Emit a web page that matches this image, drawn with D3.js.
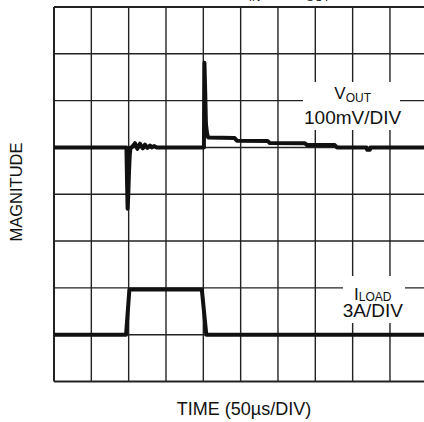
<!DOCTYPE html>
<html>
<head>
<meta charset="utf-8">
<script src="https://cdn.jsdelivr.net/npm/d3@7"></script>
<style>
body { margin: 0; background: #fff; }
text { font-family: "Liberation Sans", Arial, sans-serif; fill: #111; }
</style>
</head>
<body>
<div id="scope"></div>
<script>
// scope screen: 10 x 50us divisions, 8 vertical divisions
var xDivs = 10, yDivs = 8, usPerDiv = 50
var voutZero = 5, iloadZero = 1      // trace zero level, divisions from bottom
var mvPerDiv = 100, ampPerDiv = 3

// V_OUT deviation (mV) vs time (us)
var voutTime = [0, 97, 97.8, 98.6, 99.5, 100.5, 101.5, 102.5, 104, 108.5, 111.6, 115.2, 118.8, 121.9, 125, 128.6, 131.3, 134, 137.6,
  200.8, 201.5, 202.5, 203.5, 205, 206.5, 242, 245, 286, 289, 336, 339, 376, 379, 418.5, 419.5, 423, 424, 500]
var voutMv = [0, 0, -70, -131, -100, -50, -15, 0, 0, 9, -3, 8, -2, 6, -1, 4, 0, 3, 0,
  0, 181, 120, 50, 30, 21, 20, 14.5, 14, 9.5, 9, 5, 5, 0, 0, -5, -5, 0, 0]

// load current (A) vs time (us)
var iloadTime = [0, 96.5, 101, 198, 204, 500]
var iloadAmp = [0, 0, 2.9, 2.9, 0, 0]

var width = 424, height = 422

var svg = d3.select("#scope").append("svg")
  .attr("width", width)
  .attr("height", height)

var x = d3.scaleLinear().domain([0, xDivs * usPerDiv]).range([54, 427.3])
var y = d3.scaleLinear().domain([0, yDivs]).range([381.5, 7])

// grid
svg.append("g").selectAll("line")
  .data(d3.range(xDivs + 1))
  .enter().append("line")
  .attr("x1", function(d) { return x(d * usPerDiv) })
  .attr("x2", function(d) { return x(d * usPerDiv) })
  .attr("y1", y(0)).attr("y2", y(yDivs))
  .attr("stroke", "#222")
  .attr("stroke-width", function(d) { return d == 0 ? 2 : 1.4 })

svg.append("g").selectAll("line")
  .data(d3.range(yDivs + 1))
  .enter().append("line")
  .attr("y1", function(d) { return y(d) })
  .attr("y2", function(d) { return y(d) })
  .attr("x1", x(0)).attr("x2", x(xDivs * usPerDiv))
  .attr("stroke", "#222")
  .attr("stroke-width", function(d) { return (d == 0 || d == yDivs) ? 2 : 1.4 })

// white patches behind the trace labels
svg.append("rect").attr("x", 303).attr("y", 82).attr("width", 97).attr("height", 48).attr("fill", "#fff")
svg.append("rect").attr("x", 343).attr("y", 276).attr("width", 62).attr("height", 47).attr("fill", "#fff")

var vout = voutTime.map(function(t, i) { return [t, voutMv[i]] })
var iload = iloadTime.map(function(t, i) { return [t, iloadAmp[i]] })

var voutLine = d3.line()
  .x(function(d) { return x(d[0]) })
  .y(function(d) { return y(voutZero + d[1] / mvPerDiv) })

var iloadLine = d3.line()
  .x(function(d) { return x(d[0]) })
  .y(function(d) { return y(iloadZero + d[1] / ampPerDiv) })

svg.append("path").attr("d", voutLine(vout))
  .attr("fill", "none").attr("stroke", "#111").attr("stroke-width", 4)
  .attr("stroke-linejoin", "round")

svg.append("path").attr("d", iloadLine(iload))
  .attr("fill", "none").attr("stroke", "#111").attr("stroke-width", 4)
  .attr("stroke-linejoin", "round")

// trace labels
var lv = svg.append("text").attr("x", x(400)).attr("y", 99).attr("text-anchor", "middle")
lv.append("tspan").style("font-size", "17px").text("V")
lv.append("tspan").style("font-size", "12px").attr("dy", 2.5).text("OUT")
svg.append("text").attr("x", x(400)).attr("y", 123.5).attr("text-anchor", "middle")
  .style("font-size", "19px").text("100mV/DIV")

var li = svg.append("text").attr("x", x(427)).attr("y", 299.5).attr("text-anchor", "middle")
li.append("tspan").style("font-size", "17px").text("I")
li.append("tspan").style("font-size", "12px").attr("dy", 1).text("LOAD")
svg.append("text").attr("x", x(427)).attr("y", 317).attr("text-anchor", "middle")
  .style("font-size", "19px").text("3A/DIV")

// axis titles
svg.append("text").attr("x", 244).attr("y", 415).attr("text-anchor", "middle")
  .style("font-size", "18px").text("TIME (50\u00b5s/DIV)")

svg.append("text").attr("transform", "translate(21.5,192) rotate(-90)")
  .attr("text-anchor", "middle").style("font-size", "16.5px").text("MAGNITUDE")

// title, cut off by the top edge
var tt = svg.append("text").attr("y", -3).style("font-size", "19px")
tt.append("tspan").attr("x", 40).text("LOAD TRANSIENT RESPONSE,")
tt.append("tspan").attr("x", 236).text("V")
tt.append("tspan").attr("dy", 4).style("font-size", "11.5px").text("IN")
tt.append("tspan").attr("dy", -4).text(" = 5V, ")
tt.append("tspan").attr("x", 293).text("V")
tt.append("tspan").attr("dy", 4).style("font-size", "11.5px").text("OUT")
tt.append("tspan").attr("dy", -4).text(" = 3.3V,")
</script>
</body>
</html>
